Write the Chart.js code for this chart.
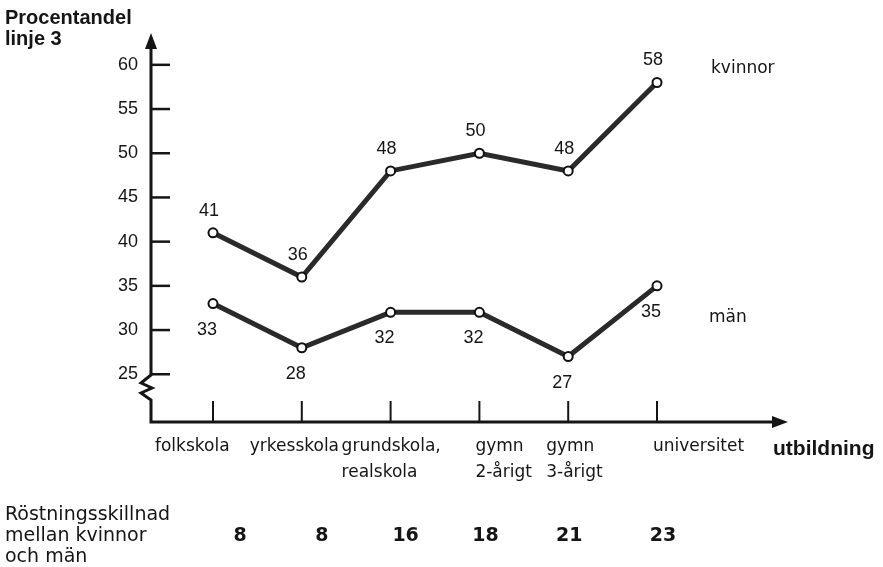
<!DOCTYPE html>
<html>
<head>
<meta charset="utf-8">
<script src="https://cdn.jsdelivr.net/npm/chart.js@4.4.0/dist/chart.umd.min.js"></script>
<style>
  body { margin: 0; background: #fff; }
  canvas { display: block; }
</style>
</head>
<body>
<canvas id="chart" width="883" height="567"></canvas>
<script>
// values
const categories = [["folkskola"], ["yrkesskola"], ["grundskola,", "realskola"], ["gymn", "2-årigt"], ["gymn", "3-årigt"], ["universitet"]];
const kvinnor = [41, 36, 48, 50, 48, 58];
const man = [33, 28, 32, 32, 27, 35];
const diff = [8, 8, 16, 18, 21, 23];
const yTicks = [25, 30, 35, 40, 45, 50, 55, 60];
const seriesNames = ["kvinnor", "män"];
const diffTitle = ["Röstningsskillnad", "mellan kvinnor", "och män"];

// small nudges for the text under the axis (pixels from each tick)
const labelShift = [-58, -52, -49, -4, -22, -4];
const diffShift = [27, 20, 15, 6, 1, 6];

const ink = "#151515";

const axesPlugin = {
    id: "axes",
    beforeDatasetsDraw(chart) {
        const ctx = chart.ctx;
        const area = chart.chartArea;
        const xs = chart.scales.x;
        const ys = chart.scales.y;
        const left = area.left;
        const bottom = area.bottom;
        ctx.save();
        ctx.strokeStyle = ink;
        ctx.fillStyle = ink;
        ctx.lineCap = "butt";
        ctx.lineJoin = "miter";

        // y axis with break at the bottom
        ctx.lineWidth = 3;
        ctx.beginPath();
        ctx.moveTo(left, area.top + 12);
        ctx.lineTo(left, bottom - 47);
        ctx.lineTo(left - 10, bottom - 39);
        ctx.lineTo(left + 1, bottom - 34);
        ctx.lineTo(left - 10, bottom - 29);
        ctx.lineTo(left, bottom - 22);
        ctx.lineTo(left, bottom);
        ctx.lineTo(area.right - 12, bottom);
        ctx.stroke();

        // arrow heads
        ctx.beginPath();
        ctx.moveTo(left, area.top);
        ctx.lineTo(left - 6, area.top + 16);
        ctx.lineTo(left + 6, area.top + 16);
        ctx.closePath();
        ctx.fill();
        ctx.beginPath();
        ctx.moveTo(area.right, bottom);
        ctx.lineTo(area.right - 16, bottom - 6);
        ctx.lineTo(area.right - 16, bottom + 6);
        ctx.closePath();
        ctx.fill();

        // inward tick marks
        ctx.lineWidth = 2.5;
        yTicks.forEach(v => {
            const y = ys.getPixelForValue(v);
            ctx.beginPath();
            ctx.moveTo(left, y);
            ctx.lineTo(left + 19, y);
            ctx.stroke();
        });
        ctx.lineWidth = 2;
        categories.forEach((c, i) => {
            const x = xs.getPixelForValue(i);
            ctx.beginPath();
            ctx.moveTo(x, bottom);
            ctx.lineTo(x, bottom - 21);
            ctx.stroke();
        });
        ctx.restore();
    }
};

const textPlugin = {
    id: "texts",
    afterDraw(chart) {
        const ctx = chart.ctx;
        const area = chart.chartArea;
        const xs = chart.scales.x;
        ctx.save();
        ctx.fillStyle = ink;

        // axis titles
        ctx.font = "bold 20px 'Liberation Sans'";
        ctx.textAlign = "left";
        ctx.textBaseline = "alphabetic";
        ctx.fillText("Procentandel", 5, 24);
        ctx.fillText("linje 3", 5, 45);
        ctx.font = "bold 21px 'Liberation Sans'";
        ctx.fillText("utbildning", area.right - 15, area.bottom + 33);

        // category labels
        ctx.font = "17px 'DejaVu Sans'";
        categories.forEach((lines, i) => {
            const x = xs.getPixelForValue(i) + labelShift[i];
            lines.forEach((t, k) => ctx.fillText(t, x, area.bottom + 29 + k * 26));
        });

        // voting difference row
        ctx.font = "19px 'DejaVu Sans'";
        diffTitle.forEach((t, k) => ctx.fillText(t, 5, 520 + k * 21));
        ctx.font = "bold 19px 'DejaVu Sans'";
        ctx.textAlign = "center";
        diff.forEach((d, i) => {
            ctx.fillText(String(d), xs.getPixelForValue(i) + diffShift[i], 541);
        });

        // value labels and series names
        const offsets = [{ dx: -4, dy: -22, nx: 54, ny: -14 }, { dx: -6, dy: 26, nx: 52, ny: 32 }];
        chart.data.datasets.forEach((ds, d) => {
            const meta = chart.getDatasetMeta(d);
            const o = offsets[d];
            ctx.font = "18px 'Liberation Sans'";
            ctx.textAlign = "center";
            ctx.textBaseline = "middle";
            meta.data.forEach((pt, i) => {
                ctx.fillText(String(ds.data[i].y), pt.x + o.dx, pt.y + o.dy);
            });
            const last = meta.data[meta.data.length - 1];
            ctx.font = "17px 'DejaVu Sans'";
            ctx.textAlign = "left";
            ctx.fillText(seriesNames[d], last.x + o.nx, last.y + o.ny);
        });
        ctx.restore();
    }
};

function lineSet(name, values) {
    return {
        label: name,
        data: values.map((v, i) => ({ x: i, y: v })),
        borderColor: "#2a2a2a",
        borderWidth: 5,
        tension: 0,
        pointRadius: 4.5,
        pointBackgroundColor: "#fff",
        pointBorderColor: "#111",
        pointBorderWidth: 2,
        clip: false
    };
}

new Chart(document.getElementById("chart").getContext("2d"), {
    type: "line",
    data: {
        datasets: [lineSet(seriesNames[0], kvinnor), lineSet(seriesNames[1], man)]
    },
    options: {
        responsive: false,
        animation: false,
        devicePixelRatio: 1,
        layout: { padding: { top: 33, right: 95, bottom: 145, left: 0 } },
        plugins: { legend: { display: false }, tooltip: { enabled: false } },
        scales: {
            x: { type: "linear", min: -0.698, max: 6.475, display: false },
            y: {
                min: 19.6,
                max: 63.6,
                afterFit: s => { s.width = 151; },
                afterBuildTicks: s => { s.ticks = yTicks.map(v => ({ value: v })); },
                grid: { display: false, drawTicks: false },
                border: { display: false },
                ticks: { padding: 13, color: ink, font: { family: "Liberation Sans", size: 18 } }
            }
        }
    },
    plugins: [axesPlugin, textPlugin]
});
</script>
</body>
</html>
